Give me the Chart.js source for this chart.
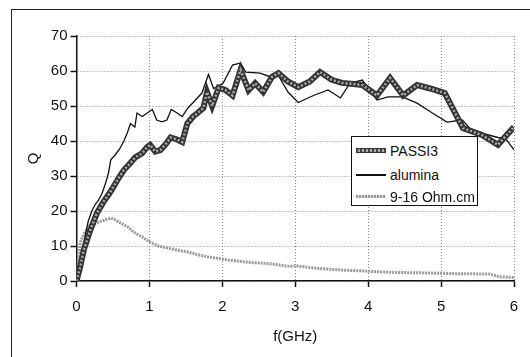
<!DOCTYPE html>
<html>
<head>
<meta charset="utf-8">
<script src="https://cdn.jsdelivr.net/npm/chart.js@4.4.0/dist/chart.umd.min.js"></script>
<style>
  body { margin: 0; width: 530px; height: 357px; overflow: hidden; background: #fff; font-family: "Liberation Sans", Arial, sans-serif; }
  #wrap { position: relative; width: 530px; height: 357px; overflow: hidden; }
  #frame { position: absolute; left: 11px; top: 9px; width: 600px; height: 400px; border: 1.5px solid #222; }
  canvas { position: absolute; left: 0; top: 0; }
  #legend { position: absolute; left: 351px; top: 136px; width: 125px; height: 68px; border: 1.5px solid #111; background: #fff; }
  .row { position: absolute; left: 0; width: 125px; height: 20px; }
  .sample { position: absolute; left: 4px; width: 30px; }
  .label { position: absolute; left: 38px; top: 0; font-size: 14px; line-height: 20px; color: #111; white-space: nowrap; }
</style>
</head>
<body>
<div id="wrap">
  <div id="frame"></div>
  <canvas id="myChart" width="530" height="357"></canvas>
  <div id="legend">
    <div class="row" style="top:4px">
      <div class="sample" style="top:7px;height:3px;background:repeating-linear-gradient(90deg,#444 0 2px,#aaa 2px 4px);border-top:1.5px solid #333;border-bottom:1.5px solid #333"></div>
      <div class="label">PASSI3</div>
    </div>
    <div class="row" style="top:28px">
      <div class="sample" style="top:9px;height:1.5px;background:#111"></div>
      <div class="label">alumina</div>
    </div>
    <div class="row" style="top:50px">
      <div class="sample" style="top:8px;height:3px;background:repeating-linear-gradient(90deg,#999 0 2px,#ddd 2px 3px)"></div>
      <div class="label">9-16 Ohm.cm</div>
    </div>
  </div>
</div>
<script>
// PASSI3 substrate
const passiF = [0, 0.05, 0.1, 0.19, 0.28, 0.37, 0.45, 0.51, 0.58, 0.65, 0.73, 0.81, 0.9, 0.97, 1.01, 1.08, 1.15, 1.22, 1.29, 1.37, 1.45, 1.52, 1.6, 1.66, 1.74, 1.79, 1.86, 1.95, 2.04, 2.14, 2.25, 2.36, 2.45, 2.56, 2.68, 2.77, 2.9, 3.04, 3.2, 3.34, 3.5, 3.64, 3.8, 3.92, 4.12, 4.3, 4.48, 4.67, 4.85, 5.05, 5.3, 5.56, 5.78, 6.0];
const passiQ = [0, 4, 8.9, 14.6, 19.4, 22.6, 25, 27, 29.5, 31.7, 33.5, 35.4, 36.5, 38.3, 38.9, 37, 37.4, 39, 41, 40.5, 39.7, 45, 47, 48, 49.4, 54, 50, 55.2, 54.6, 53, 60.3, 54.5, 56.5, 54, 58.3, 59.4, 57, 55.4, 57, 59.7, 57.5, 56.6, 56.3, 56, 53, 58, 53, 56, 55, 53.7, 43.7, 41.7, 38.9, 44];

// alumina substrate
const aluminaF = [0, 0.05, 0.1, 0.16, 0.21, 0.26, 0.3, 0.35, 0.4, 0.44, 0.47, 0.53, 0.6, 0.65, 0.7, 0.74, 0.8, 0.83, 0.9, 0.97, 1.04, 1.1, 1.17, 1.24, 1.3, 1.38, 1.45, 1.53, 1.6, 1.72, 1.81, 1.88, 2.01, 2.14, 2.25, 2.32, 2.52, 2.66, 2.75, 2.9, 3.04, 3.25, 3.45, 3.62, 3.75, 3.92, 4.12, 4.27, 4.47, 4.67, 4.88, 5.08, 5.29, 5.42, 5.6, 5.78, 5.88, 6.0];
const aluminaQ = [0, 6, 11, 17, 20, 22, 23, 25, 28, 31, 34.6, 36, 38, 40, 42.5, 45, 44, 48, 47, 48, 49, 46, 45.5, 46, 49, 48, 47, 49.5, 51, 53.7, 59, 55, 56.5, 61.7, 62.3, 59.7, 59.4, 58.3, 59.4, 54, 51, 53, 54.6, 52.3, 56.5, 57.4, 51.7, 52.6, 52.6, 50.8, 48, 45.4, 46, 43, 42, 41, 40.8, 37.5];

// 9-16 Ohm.cm silicon
const ohmF = [0, 0.02, 0.05, 0.08, 0.12, 0.19, 0.26, 0.33, 0.4, 0.47, 0.53, 0.6, 0.7, 0.78, 0.9, 1.01, 1.12, 1.25, 1.38, 1.52, 1.65, 1.79, 1.93, 2.07, 2.2, 2.34, 2.45, 2.56, 2.72, 2.89, 3.03, 3.25, 3.45, 3.66, 3.9, 4.16, 4.5, 4.8, 5.2, 5.67, 5.8, 6.0];
const ohmQ = [0, 5, 10.9, 12.5, 14, 16, 16.5, 17, 17.5, 18, 17.5, 16.6, 15.5, 14, 12.6, 11.1, 10, 9.4, 8.8, 8.3, 7.6, 6.9, 6.5, 6, 5.7, 5.4, 5.2, 5.1, 4.8, 4.2, 4.3, 3.7, 3.4, 3.1, 2.9, 2.6, 2.4, 2.3, 2.1, 2.0, 1.2, 1.0];

const toPoints = (f, q) => f.map((x, i) => ({ x: x, y: q[i] }));

const tickFont = { family: "Liberation Sans, Arial, sans-serif", size: 15 };
// taller line box pushes the x labels down without widening the right padding
const xTickFont = { family: "Liberation Sans, Arial, sans-serif", size: 15, lineHeight: 2.2 };

const ctx = document.getElementById("myChart").getContext("2d");
const myChart = new Chart(ctx, {
    type: "line",
    data: {
        datasets: [
            // thick PASSI3 line: dark band with a grey dashed core on top
            { label: "PASSI3", data: toPoints(passiF, passiQ), borderColor: "#aaa", borderWidth: 2.5, borderDash: [2, 2], order: 0 },
            { label: "PASSI3", data: toPoints(passiF, passiQ), borderColor: "#333", borderWidth: 6, order: 1 },
            { label: "alumina", data: toPoints(aluminaF, aluminaQ), borderColor: "#111", borderWidth: 1.3, order: 2 },
            { label: "9-16 Ohm.cm", data: toPoints(ohmF, ohmQ), borderColor: "#9a9a9a", borderWidth: 3, borderDash: [2, 1], order: 3 },
        ]
    },
    options: {
        responsive: false,
        animation: false,
        devicePixelRatio: 1,
        elements: { point: { radius: 0 }, line: { tension: 0 } },
        layout: { padding: { top: 36, right: 16, left: 0, bottom: 0 } },
        plugins: { legend: { display: false }, tooltip: { enabled: false } },
        scales: {
            x: {
                type: "linear",
                min: 0,
                max: 6,
                afterFit: (s) => { s.height = 76; },
                ticks: { stepSize: 1, font: xTickFont, color: "#111", padding: 3 },
                grid: { color: "#888", lineWidth: 1, tickColor: "#111", tickLength: 6, tickWidth: 1.5 },
                border: { display: true, color: "#111", width: 1.5, dash: [1, 2] },
                title: { display: true, text: "f(GHz)", font: tickFont, color: "#111", padding: { top: 4, bottom: 11 } }
            },
            y: {
                min: 0,
                max: 70,
                afterFit: (s) => { s.width = 76.5; },
                ticks: { stepSize: 10, font: tickFont, color: "#111", padding: 3 },
                grid: { color: "#888", lineWidth: 1, tickColor: "#111", tickLength: 6, tickWidth: 1.5 },
                border: { display: true, color: "#111", width: 1.5, dash: [1, 2] },
                title: { display: true, text: "Q", font: tickFont, color: "#111", padding: { top: 25, bottom: 4 } }
            }
        }
    }
});
</script>
</body>
</html>
